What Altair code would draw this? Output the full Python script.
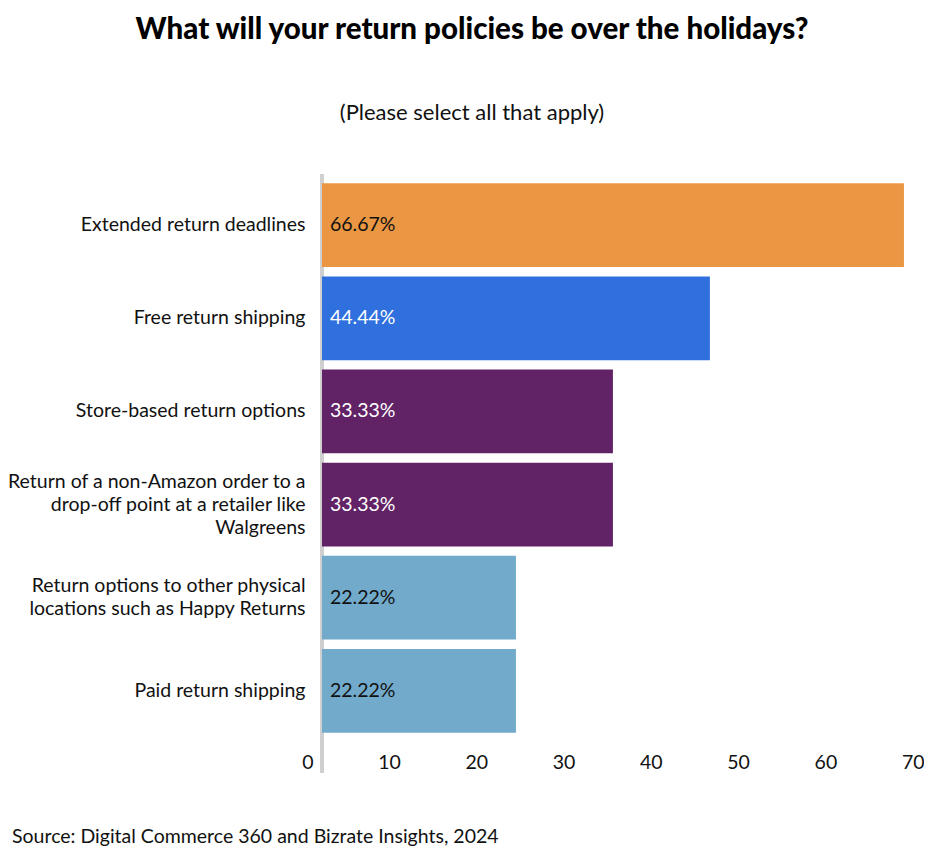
import altair as alt
import pandas as pd

# ---- data ----
policies = [
    "Extended return deadlines",
    "Free return shipping",
    "Store-based return options",
    "Return of a non-Amazon order to a\ndrop-off point at a retailer like\nWalgreens",
    "Return options to other physical\nlocations such as Happy Returns",
    "Paid return shipping",
]
shares = [66.67, 44.44, 33.33, 33.33, 22.22, 22.22]
x_ticks = [0, 10, 20, 30, 40, 50, 60, 70]

title_text = "What will your return policies be over the holidays?"
subtitle_text = "(Please select all that apply)"
source_text = "Source: Digital Commerce 360 and Bizrate Insights, 2024"

# ---- styles ----
bar_colors = ["#EA9642", "#2F6FDE", "#622366", "#622366", "#71AACB", "#71AACB"]
label_colors = ["#111111", "#FFFFFF", "#FFFFFF", "#FFFFFF", "#111111", "#111111"]
FONT = "Lato"
FS = 19.5
LH = 23

df = pd.DataFrame({"policy": policies, "share": shares})

W, H = 611, 568

x_scale = alt.Scale(domain=[0, 70], nice=False)
x_axis = alt.Axis(
    title=None,
    values=x_ticks,
    domain=False,
    ticks=False,
    tickSize=0,
    grid=False,
    labelFont=FONT,
    labelFontSize=FS,
    labelColor="#111111",
    labelAlign="right",
    labelOffset=-9,
    labelPadding=26,
    labelBaseline="alphabetic",
)
y_axis = alt.Axis(
    title=None,
    domain=False,
    ticks=False,
    tickSize=0,
    grid=False,
    labelFont=FONT,
    labelFontSize=FS,
    labelColor="#111111",
    labelPadding=17,
    labelLimit=400,
    labelLineHeight=LH,
    labelBaseline="middle",
    labelOffset={
        "condition": [
            {"test": "length(split(datum.label, '\\n')) == 3", "value": -LH},
            {"test": "length(split(datum.label, '\\n')) == 2", "value": -LH / 2},
        ],
        "value": 0,
    },
    labelExpr="split(datum.label, '\\n')",
)
y_scale = alt.Scale(paddingInner=0.1, paddingOuter=0.1)
y_enc = alt.Y("policy:N", sort=policies, scale=y_scale, axis=y_axis)
x0 = alt.datum(0, scale=x_scale, axis=x_axis)

base = alt.Chart(df)

zeroline = base.mark_rule(color="#cfcfcf", strokeWidth=3).encode(
    x=x0, y=alt.value(0), y2=alt.value(H + 31)
)

bars = base.mark_bar().encode(
    x=alt.X("share:Q", scale=x_scale, axis=x_axis),
    y=y_enc,
    color=alt.Color("policy:N", scale=alt.Scale(domain=policies, range=bar_colors), legend=None),
)

labels = base.transform_calculate(
    lab="format(datum.share, '.2f') + '%'"
).mark_text(align="left", baseline="middle", dx=8, font=FONT, fontSize=FS).encode(
    x=x0,
    y=y_enc,
    text="lab:N",
    color=alt.Color("policy:N", scale=alt.Scale(domain=policies, range=label_colors), legend=None),
)

title = alt.Chart(pd.DataFrame({"t": [title_text]})).mark_text(
    font=FONT, fontSize=29.5, fontWeight=900, align="center", baseline="alphabetic", color="#000000"
).encode(x=alt.value(150), y=alt.value(-135), text="t:N")

sub = alt.Chart(pd.DataFrame({"t": [subtitle_text]})).mark_text(
    font=FONT, fontSize=22, align="center", baseline="alphabetic", color="#111111"
).encode(x=alt.value(150), y=alt.value(-54), text="t:N")

src = alt.Chart(pd.DataFrame({"t": [source_text]})).mark_text(
    font=FONT, fontSize=FS, align="left", baseline="alphabetic", color="#111111"
).encode(x=alt.value(-310), y=alt.value(669), text="t:N")

chart = (
    alt.layer(zeroline, bars, labels, title, sub, src)
    .resolve_scale(color="independent")
    .properties(
        width=W,
        height=H,
        background="white",
        autosize=alt.AutoSizeParams(type="none"),
        padding={"left": 314, "top": 166, "right": -9, "bottom": 106},
    )
    .configure_view(strokeWidth=0, stroke="transparent")
)

chart.save("out.html", embed_options={"renderer": "svg", "actions": False})
